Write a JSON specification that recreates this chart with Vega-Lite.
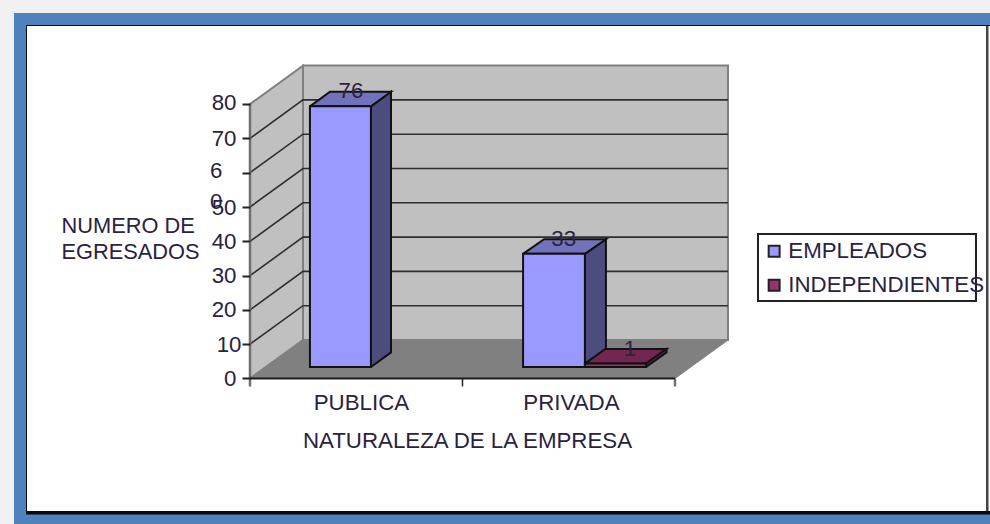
{
"$schema":"https://vega.github.io/schema/vega-lite/v6.json",
"width":990,"height":524,"padding":0,"autosize":{"type":"none"},
"background":"#f0f0f0",
"config":{"view":{"stroke":null},"font":"Liberation Sans"},
"resolve":{"axis":{"x":"independent","y":"independent"}},
"datasets":{
"valores":[
{"categoria":"PUBLICA","serie":"EMPLEADOS","valor":76,"x0":0.282,"x1":0.569,"xc":0.475},
{"categoria":"PRIVADA","serie":"EMPLEADOS","valor":33,"x0":1.285,"x1":1.576,"xc":1.476},
{"categoria":"PRIVADA","serie":"INDEPENDIENTES","valor":1,"x0":1.576,"x1":1.864,"xc":1.788}
],
"marco":[
{"pieza":"azul","x":-1.1106,"x2":3.4824,"y":106.56,"y2":-42.42},
{"pieza":"negro","x":-1.0541,"x2":3.4824,"y":103.06,"y2":-39.65},
{"pieza":"blanco","x":-1.0494,"x2":3.4824,"y":102.77,"y2":-38.63},
{"pieza":"derecha","x":3.4635,"x2":3.4753,"y":102.77,"y2":-38.63}
],
"paredes":[
{"p":"izq","i":0,"x":0,"y":0},{"p":"izq","i":1,"x":0.2494,"y":11.22},{"p":"izq","i":2,"x":0.2494,"y":91.22},{"p":"izq","i":3,"x":0,"y":80},{"p":"izq","i":4,"x":0,"y":0},
{"p":"fondo","i":0,"x":0.2494,"y":11.22},{"p":"fondo","i":1,"x":2.2494,"y":11.22},{"p":"fondo","i":2,"x":2.2494,"y":91.22},{"p":"fondo","i":3,"x":0.2494,"y":91.22},{"p":"fondo","i":4,"x":0.2494,"y":11.22}
],
"piso":[
{"p":"piso","i":0,"x":0,"y":0},{"p":"piso","i":1,"x":2,"y":0},{"p":"piso","i":2,"x":2.2494,"y":11.22},{"p":"piso","i":3,"x":0.2494,"y":11.22},{"p":"piso","i":4,"x":0,"y":0}
],
"rejilla":[
{"v":10,"i":0,"x":0,"y":10},{"v":10,"i":1,"x":0.2494,"y":21.22},{"v":10,"i":2,"x":2.2494,"y":21.22},
{"v":20,"i":0,"x":0,"y":20},{"v":20,"i":1,"x":0.2494,"y":31.22},{"v":20,"i":2,"x":2.2494,"y":31.22},
{"v":30,"i":0,"x":0,"y":30},{"v":30,"i":1,"x":0.2494,"y":41.22},{"v":30,"i":2,"x":2.2494,"y":41.22},
{"v":40,"i":0,"x":0,"y":40},{"v":40,"i":1,"x":0.2494,"y":51.22},{"v":40,"i":2,"x":2.2494,"y":51.22},
{"v":50,"i":0,"x":0,"y":50},{"v":50,"i":1,"x":0.2494,"y":61.22},{"v":50,"i":2,"x":2.2494,"y":61.22},
{"v":60,"i":0,"x":0,"y":60},{"v":60,"i":1,"x":0.2494,"y":71.22},{"v":60,"i":2,"x":2.2494,"y":71.22},
{"v":70,"i":0,"x":0,"y":70},{"v":70,"i":1,"x":0.2494,"y":81.22},{"v":70,"i":2,"x":2.2494,"y":81.22}
],
"lados":[
{"p":"a","i":0,"x":0.569,"y":3.35},{"p":"a","i":1,"x":0.6635,"y":7.6},{"p":"a","i":2,"x":0.6635,"y":83.6},{"p":"a","i":3,"x":0.569,"y":79.35},{"p":"a","i":4,"x":0.569,"y":3.35},
{"p":"b","i":0,"x":1.576,"y":3.35},{"p":"b","i":1,"x":1.675,"y":7.6},{"p":"b","i":2,"x":1.675,"y":40.6},{"p":"b","i":3,"x":1.576,"y":36.35},{"p":"b","i":4,"x":1.576,"y":3.35}
],
"techos":[
{"p":"a","i":0,"x":0.282,"y":79.35},{"p":"a","i":1,"x":0.569,"y":79.35},{"p":"a","i":2,"x":0.6635,"y":83.6},{"p":"a","i":3,"x":0.3765,"y":83.6},{"p":"a","i":4,"x":0.282,"y":79.35},
{"p":"b","i":0,"x":1.285,"y":36.35},{"p":"b","i":1,"x":1.576,"y":36.35},{"p":"b","i":2,"x":1.675,"y":40.6},{"p":"b","i":3,"x":1.384,"y":40.6},{"p":"b","i":4,"x":1.285,"y":36.35}
],
"rojo":[
{"p":"techo","i":0,"x":1.576,"y":4.35},{"p":"techo","i":1,"x":1.864,"y":4.35},{"p":"techo","i":2,"x":1.96,"y":8.6},{"p":"techo","i":3,"x":1.672,"y":8.6},{"p":"techo","i":4,"x":1.576,"y":4.35},
{"p":"lado","i":0,"x":1.864,"y":3.35},{"p":"lado","i":1,"x":1.96,"y":7.6},{"p":"lado","i":2,"x":1.96,"y":8.6},{"p":"lado","i":3,"x":1.864,"y":4.35},{"p":"lado","i":4,"x":1.864,"y":3.35}
],
"marcas":[
{"x":0,"y":80,"y2":-2.3,"tono":"gris"},
{"x":2,"y":0,"y2":-2.3,"tono":"gris"},
{"x":1,"y":0,"y2":-2.3,"tono":"oscuro"}
],
"caja":[{"x":2.3906,"x2":3.4165,"y":42.13,"y2":22.6}]
},
"encoding":{
"x":{"field":"x","type":"quantitative","scale":{"domain":[-1.17647,3.48235],"nice":false,"zero":false},"axis":null},
"y":{"field":"y","type":"quantitative","scale":{"domain":[-42.42,110.35],"nice":false,"zero":false},"axis":null}
},
"layer":[
{"data":{"name":"marco"},"transform":[{"filter":"datum.pieza=='azul'"}],"mark":{"type":"rect","fill":"#4f81bd"},"encoding":{"x2":{"field":"x2"},"y2":{"field":"y2"}}},
{"data":{"name":"marco"},"transform":[{"filter":"datum.pieza=='negro'"}],"mark":{"type":"rect","fill":"#0a0a0a"},"encoding":{"x2":{"field":"x2"},"y2":{"field":"y2"}}},
{"data":{"name":"marco"},"transform":[{"filter":"datum.pieza=='blanco'"}],"mark":{"type":"rect","fill":"#ffffff"},"encoding":{"x2":{"field":"x2"},"y2":{"field":"y2"}}},
{"data":{"name":"marco"},"transform":[{"filter":"datum.pieza=='derecha'"}],"mark":{"type":"rect","fill":"#444444"},"encoding":{"x2":{"field":"x2"},"y2":{"field":"y2"}}},
{"data":{"name":"paredes"},"mark":{"type":"line","fill":"#c0c0c0","stroke":"#808080","strokeWidth":2},"encoding":{"detail":{"field":"p"},"order":{"field":"i"}}},
{"data":{"name":"piso"},"mark":{"type":"line","fill":"#808080","stroke":"#808080","strokeWidth":1},"encoding":{"detail":{"field":"p"},"order":{"field":"i"}}},
{"data":{"name":"rejilla"},"mark":{"type":"line","stroke":"#2e2e2e","strokeWidth":1.6},"encoding":{"detail":{"field":"v"},"order":{"field":"i"}}},
{"data":{"name":"marcas"},"transform":[{"filter":"datum.tono=='gris'"}],"mark":{"type":"rule","stroke":"#707070","strokeWidth":2.5},"encoding":{"y2":{"field":"y2"}}},
{"data":{"name":"marcas"},"transform":[{"filter":"datum.tono=='oscuro'"}],"mark":{"type":"rule","stroke":"#222222","strokeWidth":1.5},"encoding":{"y2":{"field":"y2"}}},
{"data":{"values":[{"x":0,"y":0,"i":0},{"x":2,"y":0,"i":1}]},"mark":{"type":"line","stroke":"#1a1a1a","strokeWidth":2},"encoding":{"order":{"field":"i"}}},
{"data":{"name":"caja"},"mark":{"type":"rect","fill":"#ffffff","stroke":"#222222","strokeWidth":2},"encoding":{"x2":{"field":"x2"},"y2":{"field":"y2"}}},
{"data":{"name":"lados"},"mark":{"type":"line","fill":"#4c4c7f","stroke":"#111111","strokeWidth":2},"encoding":{"detail":{"field":"p"},"order":{"field":"i"}}},
{"data":{"name":"techos"},"mark":{"type":"line","fill":"#7272bc","stroke":"#111111","strokeWidth":2},"encoding":{"detail":{"field":"p"},"order":{"field":"i"}}},
{"data":{"name":"rojo"},"mark":{"type":"line","fill":"#732650","stroke":"#111111","strokeWidth":2},"encoding":{"detail":{"field":"p"},"order":{"field":"i"}}},
{"data":{"name":"valores"},
"mark":{"type":"rect","stroke":"#111111","strokeWidth":2,"yOffset":-11.5,"y2Offset":-11.5},
"encoding":{
"x":{"field":"x0","type":"quantitative","axis":{"values":[0.522,1.51],"labelExpr":"datum.value<1?'PUBLICA':'PRIVADA'","orient":"bottom","offset":-145.5,"domain":false,"ticks":false,"grid":false,"labelFontSize":22.3,"labelColor":"#2a2240","labelPadding":13,"labelFont":"Liberation Sans","labelOverlap":false,"title":"NATURALEZA DE LA EMPRESA","titleFontSize":22.3,"titleFontWeight":"normal","titleColor":"#2a2240","titleFont":"Liberation Sans","titleX":467,"titleY":62,"titleBaseline":"middle","titleAlign":"center","zindex":1}},
"x2":{"field":"x1"},
"y":{"field":"valor","type":"quantitative","axis":{"values":[0,10,20,30,40,50,60,70,80],"orient":"left","offset":-250,"domain":false,"grid":false,"tickSize":8,"tickColor":"#222222","tickWidth":2,"labelFontSize":22.3,"labelColor":"#2a2240","labelFont":"Liberation Sans","labelOverlap":false,"labelExpr":"datum.value==60?['6','0']:datum.label","labelLineHeight":31,"labelPadding":{"expr":"datum.value==10?1:datum.value==60?20:6"},"labelOffset":{"expr":"datum.value==60?-2:datum.value==80?-2:0"},"title":["NUMERO DE","EGRESADOS"],"titleAngle":0,"titleAlign":"left","titleBaseline":"middle","titleFontSize":21.8,"titleFontWeight":"normal","titleColor":"#2a2240","titleFont":"Liberation Sans","titleLineHeight":26,"titleX":-189,"titleY":225,"zindex":1}},
"y2":{"datum":0},
"fill":{"field":"serie","type":"nominal","scale":{"domain":["EMPLEADOS","INDEPENDIENTES"],"range":["#9999ff","#993366"]},"legend":{"orient":"none","legendX":763,"legendY":240,"title":null,"symbolType":"square","symbolSize":120,"symbolStrokeColor":"#222222","symbolStrokeWidth":2,"labelFontSize":22.3,"labelFont":"Liberation Sans","labelColor":"#2a2240","labelLimit":300,"rowPadding":11,"padding":0,"labelOffset":3,"zindex":1}}
}},
{"data":{"name":"valores"},"mark":{"type":"text","fontSize":22.3,"font":"Liberation Sans","color":"#2a2240","dy":-26.5},
"encoding":{"x":{"field":"xc","type":"quantitative"},"y":{"field":"valor","type":"quantitative"},"text":{"field":"valor","type":"quantitative"}}}
]
}
